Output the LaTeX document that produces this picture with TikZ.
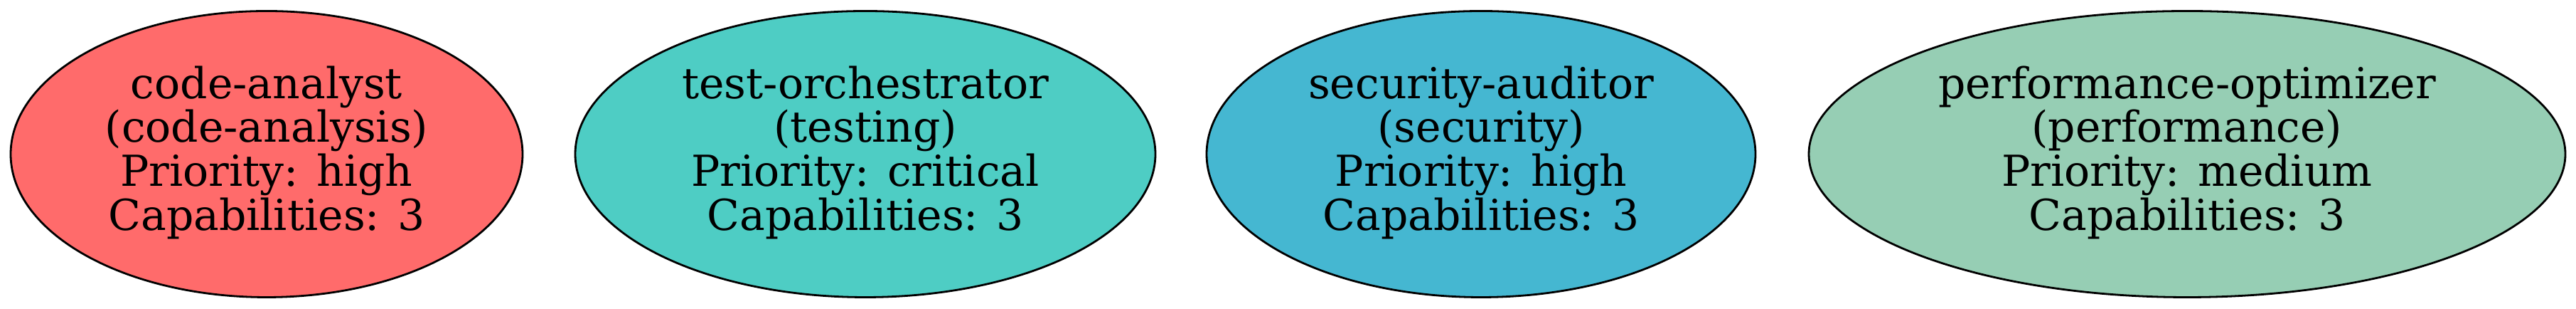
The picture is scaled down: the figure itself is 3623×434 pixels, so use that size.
\documentclass[tikz,border=0pt]{standalone}
\usepackage{fontspec}
\setmainfont{DejaVu Serif}
\usetikzlibrary{shapes.geometric}
\definecolor{cA}{HTML}{FF6B6B}
\definecolor{cB}{HTML}{4ECDC4}
\definecolor{cC}{HTML}{45B7D1}
\definecolor{cD}{HTML}{96CEB4}
\tikzset{
  agent/.style={ellipse, draw=black, line width=0.7pt, inner sep=0pt, minimum height=100.5pt},
  agentline/.style={anchor=base, inner sep=0pt, font=\fontsize{15pt}{15.4pt}\selectfont}
}
\begin{document}
\begin{tikzpicture}[x=0.25pt, y=-0.25pt]
\useasboundingbox (0,0) rectangle (3623,434);
\node[agent, fill=cA, minimum width=180pt] (e1) at (375,216.5) {};
\node[agent, fill=cB, minimum width=204pt] (e2) at (1217,216.5) {};
\node[agent, fill=cC, minimum width=193pt] (e3) at (2083,216.5) {};
\node[agent, fill=cD, minimum width=266pt] (e4) at (3076,216.5) {};
% code-analyst
\node[agentline] (t1a) at (375,138.3) {code-analyst};
\node[agentline] (t1b) at (375,200) {(code-analysis)};
\node[agentline] (t1c) at (375,261.7) {Priority: high};
\node[agentline] (t1d) at (375,323.4) {Capabilities: 3};
% test-orchestrator
\node[agentline] (t2a) at (1217,138.3) {test-orchestrator};
\node[agentline] (t2b) at (1217,200) {(testing)};
\node[agentline] (t2c) at (1217,261.7) {Priority: critical};
\node[agentline] (t2d) at (1217,323.4) {Capabilities: 3};
% security-auditor
\node[agentline] (t3a) at (2083,138.3) {security-auditor};
\node[agentline] (t3b) at (2083,200) {(security)};
\node[agentline] (t3c) at (2083,261.7) {Priority: high};
\node[agentline] (t3d) at (2083,323.4) {Capabilities: 3};
% performance-optimizer
\node[agentline] (t4a) at (3076,138.3) {performance-optimizer};
\node[agentline] (t4b) at (3076,200) {(performance)};
\node[agentline] (t4c) at (3076,261.7) {Priority: medium};
\node[agentline] (t4d) at (3076,323.4) {Capabilities: 3};
\end{tikzpicture}
\end{document}
